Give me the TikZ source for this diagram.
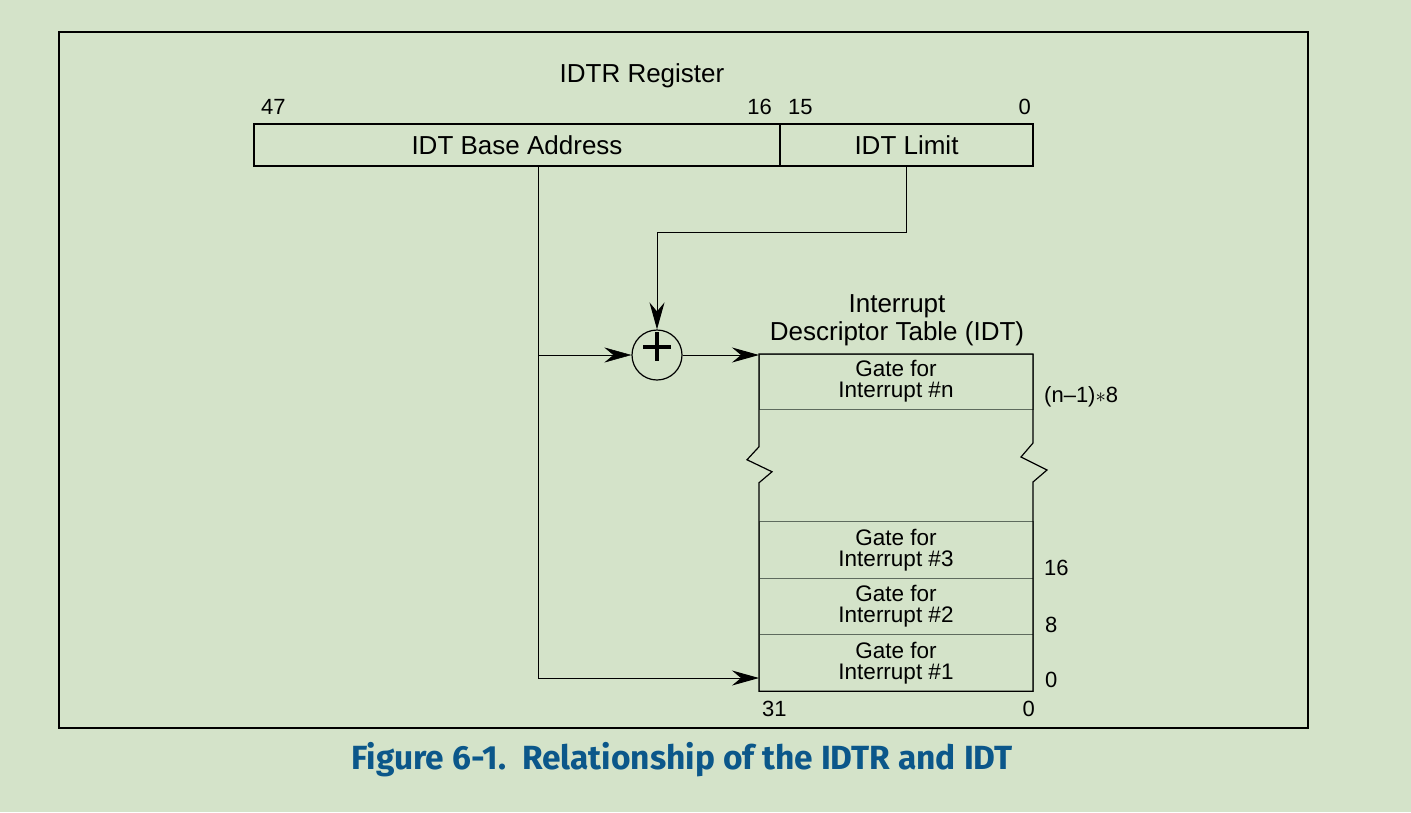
\documentclass[tikz,border=0pt]{standalone}
\usepackage{fontspec}
\setmainfont{Liberation Sans}
\newfontfamily\capfont{Fira Sans}
\usetikzlibrary{arrows.meta,positioning}
\definecolor{bgcol}{HTML}{D4E3C9}
\definecolor{capblue}{HTML}{0B578A}
\definecolor{rulegrey}{HTML}{5E6B5E}

\begin{document}
\begin{tikzpicture}[x=1pt,y=-1pt,
  field/.style={draw,line width=1.2pt,minimum height=42pt,inner sep=0pt,outer sep=0pt,font=\fontsize{26}{28}\selectfont},
  gate/.style={draw=rulegrey,line width=0.9pt,minimum width=274pt,minimum height=56.5pt,inner sep=0pt,outer sep=0pt,align=center,font=\fontsize{22.5}{21}\selectfont},
  bitno/.style={inner sep=0pt,font=\fontsize{22}{24}\selectfont},
  heading/.style={align=center,inner sep=0pt,font=\fontsize{26}{28}\selectfont},
  wire/.style={line width=1pt},
  arr/.style={-{Stealth[length=27pt,width=15pt,inset=9pt]}}]
\fill[bgcol] (0,0) rectangle (1411,812);
\draw[line width=1.2pt] (59,32) rectangle (1308,728);
% IDTR register
\node[heading,anchor=base] (regtitle) at (642,82) {IDTR Register};
\node[field,minimum width=526pt] (base) at (517,145) {IDT Base Address};
\node[field,minimum width=253pt,anchor=west] (limit) at (base.east) {IDT Limit};
\node[bitno,anchor=base west] (b47) at (261,114) {47};
\node[bitno,anchor=base east] (b16) at (772,114) {16};
\node[bitno,anchor=base west] (b15) at (788,114) {15};
\node[bitno,anchor=base east] (b0) at (1031,114) {0};
% adder
\node[circle,draw,line width=1.2pt,minimum size=50pt,inner sep=0pt] (sum) at (657,355) {};
\draw[line width=4pt] ([xshift=-14pt,yshift=8pt]sum.center) -- ++(28,0);
\draw[line width=4pt] ([yshift=23pt]sum.center) -- ++(0,29);
% IDT
\node[gate] (gate1) at (896,663) {Gate for\\Interrupt \#1};
\node[gate,above=0pt of gate1] (gate2) {Gate for\\Interrupt \#2};
\node[gate,above=0pt of gate2] (gate3) {Gate for\\Interrupt \#3};
\node[gate,minimum height=55pt] (gaten) at (896,381.5) {Gate for\\Interrupt \#n};
\node[heading,anchor=base] (idttitle) at (897,340) {Interrupt\\Descriptor Table (IDT)};
\draw[line width=1.2pt] (gaten.north west) -- (gaten.north east) -- (gaten.south east)
  -- ++(0,34) -- ++(-12,14) -- ++(26,13) -- ++(-14,12) -- (gate3.north east)
  -- (gate1.south east) -- (gate1.south west) -- (gate3.north west)
  -- ++(0,-39) -- ++(13,-11) -- ++(-25,-12) -- ++(12,-13) -- (gaten.south west) -- cycle;
\node[bitno,anchor=base west] (offn) at (1044,402) {(n\textendash1)$\ast$8};
\node[bitno,anchor=base west] (off16) at (1044,575) {16};
\node[bitno,anchor=base west] (off8) at (1045,632) {8};
\node[bitno,anchor=base west] (off0) at (1045,687) {0};
\node[bitno,anchor=base west] (b31) at (762,716) {31};
\node[bitno,anchor=base east] (bz) at (1035,716) {0};
% connectors
\coordinate (bdrop) at ([xshift=21pt]base.south);
\draw[wire,arr] (bdrop) |- ([yshift=-15pt]gate1.west);
\draw[line width=0.5pt,arr] (bdrop |- sum.west) -- (sum.west);
\draw[wire,arr] (limit.south) -- ++(0,66) -| (sum.north);
\draw[wire,arr] (sum.east) -- (sum.east -| gaten.west);
% caption
\node[font=\capfont\bfseries\fontsize{33.5}{40}\selectfont,text=capblue,anchor=base] (caption) at (682,769) {Figure 6-1.\ \ Relationship of the IDTR and IDT};
\end{tikzpicture}
\end{document}
